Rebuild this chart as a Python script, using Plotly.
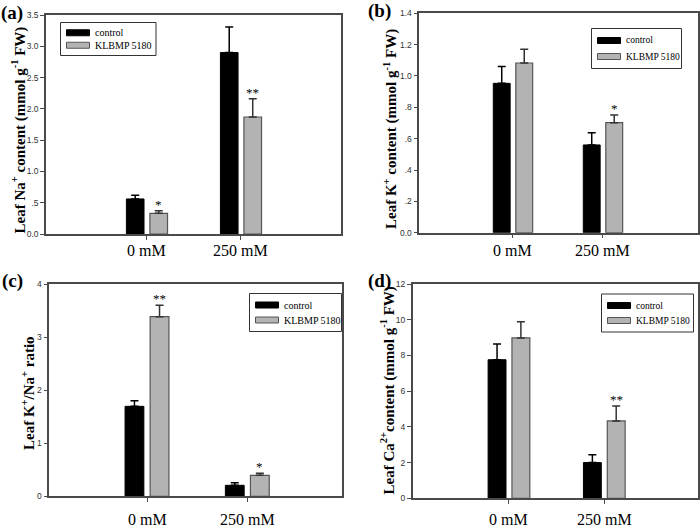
import plotly.graph_objects as go

categories = ["0 mM", "250 mM"]
series_names = ["control", "KLBMP 5180"]

# Panel (a) Leaf Na+ content
na_control = [0.56, 2.90]
na_control_err = [0.06, 0.41]
na_klbmp = [0.33, 1.87]
na_klbmp_err = [0.04, 0.29]
na_sig = ["*", "**"]

# Panel (b) Leaf K+ content
k_control = [0.953, 0.56]
k_control_err = [0.107, 0.078]
k_klbmp = [1.083, 0.702]
k_klbmp_err = [0.087, 0.049]
k_sig = ["", "*"]

# Panel (c) K+/Na+ ratio
r_control = [1.695, 0.207]
r_control_err = [0.105, 0.05]
r_klbmp = [3.385, 0.396]
r_klbmp_err = [0.215, 0.037]
r_sig = ["**", "*"]

# Panel (d) Ca2+ content
ca_control = [7.76, 2.00]
ca_control_err = [0.88, 0.44]
ca_klbmp = [8.98, 4.33]
ca_klbmp_err = [0.91, 0.84]
ca_sig = ["", "**"]

a_ticks = [0, 0.5, 1.0, 1.5, 2.0, 2.5, 3.0, 3.5]
a_ticktext = ["0.0", ".5", "1.0", "1.5", "2.0", "2.5", "3.0", "3.5"]
b_ticks = [0, 0.2, 0.4, 0.6, 0.8, 1.0, 1.2, 1.4]
b_ticktext = ["0.0", ".2", ".4", ".6", ".8", "1.0", "1.2", "1.4"]
c_ticks = [0, 1, 2, 3, 4]
c_ticktext = ["0", "1", "2", "3", "4"]
d_ticks = [0, 2, 4, 6, 8, 10, 12]
d_ticktext = ["0", "2", "4", "6", "8", "10", "12"]

W, H = 700, 528
SERIF = "Liberation Serif"
SANS = "Liberation Sans"
AXIS_COLOR = "#4a4a4a"
GRAY_FILL = "#b3b3b3"
GRAY_EDGE = "#555555"

panels = [
    dict(ctrl=na_control, ctrl_err=na_control_err, kl=na_klbmp, kl_err=na_klbmp_err, sig=na_sig,
         ticks=a_ticks, ticktext=a_ticktext, yr=[0, 3.5],
         px=(46, 341), py=(15, 234), xr=[-1.074, 2.064], caty=250.5,
         title="Leaf Na<sup>+</sup> content (mmol g<sup>-1</sup> FW)", tpos=(18.5, 130),
         leg=(60.5, 22.5, 95.5, 33), legfs=10, letter="(a)", lpos=(12, 13)),
    dict(ctrl=k_control, ctrl_err=k_control_err, kl=k_klbmp, kl_err=k_klbmp_err, sig=k_sig,
         ticks=b_ticks, ticktext=b_ticktext, yr=[0, 1.4],
         px=(419.3, 698), py=(13.3, 232.7), xr=[-1.041, 2.056], caty=250.5,
         title="Leaf K<sup>+</sup> content (mmol g<sup>-1</sup> FW)", tpos=(390, 129),
         leg=(591.5, 28.5, 90, 40), legfs=9.5, letter="(b)", lpos=(379, 11)),
    dict(ctrl=r_control, ctrl_err=r_control_err, kl=r_klbmp, kl_err=r_klbmp_err, sig=r_sig,
         ticks=c_ticks, ticktext=c_ticktext, yr=[0, 4],
         px=(49.3, 342), py=(284, 496.3), xr=[-0.974, 1.944], caty=519.5,
         title="Leaf K<sup>+</sup>/Na<sup>+</sup> ratio", tpos=(27.5, 393.5),
         leg=(249.5, 293.5, 92, 38), legfs=10, letter="(c)", lpos=(12, 281)),
    dict(ctrl=ca_control, ctrl_err=ca_control_err, kl=ca_klbmp, kl_err=ca_klbmp_err, sig=ca_sig,
         ticks=d_ticks, ticktext=d_ticktext, yr=[0, 12],
         px=(412.7, 697.7), py=(284, 498.3), xr=[-1.01, 1.98], caty=519.5,
         title="Leaf Ca<sup>2+</sup>content (mmol g<sup>-1</sup> FW)", tpos=(388, 390.5),
         leg=(601.5, 294, 92, 38), legfs=9.5, letter="(d)", lpos=(380, 281)),
]

fig = go.Figure()
layout = dict(
    width=W, height=H, margin=dict(l=0, r=0, t=0, b=0, autoexpand=False),
    paper_bgcolor="white", plot_bgcolor="white",
    barmode="group", bargap=0.5, bargroupgap=0.25,
    font=dict(family=SERIF, color="black"),
    showlegend=False,
    annotations=[], shapes=[],
)


def px_x(v):
    return v / W


def px_y(v):
    return 1 - v / H


for i, p in enumerate(panels):
    n = i + 1
    xa = "x" if n == 1 else f"x{n}"
    ya = "y" if n == 1 else f"y{n}"
    fig.add_trace(go.Bar(
        x=categories, y=p["ctrl"], name=series_names[0], xaxis=xa, yaxis=ya,
        marker=dict(color="black", line=dict(color="black", width=1)),
        error_y=dict(type="data", symmetric=False, array=p["ctrl_err"],
                     arrayminus=[0] * len(categories), color="black", thickness=1.5, width=4),
    ))
    fig.add_trace(go.Bar(
        x=categories, y=p["kl"], name=series_names[1], xaxis=xa, yaxis=ya,
        marker=dict(color=GRAY_FILL, line=dict(color=GRAY_EDGE, width=1.2)),
        error_y=dict(type="data", symmetric=False, array=p["kl_err"],
                     arrayminus=[0] * len(categories), color="#333333", thickness=1.5, width=4),
    ))
    axkey_x = "xaxis" if n == 1 else f"xaxis{n}"
    axkey_y = "yaxis" if n == 1 else f"yaxis{n}"
    layout[axkey_x] = dict(
        domain=[px_x(p["px"][0]), px_x(p["px"][1])], anchor=ya,
        type="category", range=p["xr"], showline=True, mirror=True,
        linecolor=AXIS_COLOR, linewidth=1.5, ticks="outside", ticklen=4,
        tickcolor=AXIS_COLOR, tickwidth=1, showgrid=False, zeroline=False,
        showticklabels=False, fixedrange=True, automargin=False,
    )
    layout[axkey_y] = dict(
        domain=[px_y(p["py"][1]), px_y(p["py"][0])], anchor=xa,
        range=p["yr"], tickvals=p["ticks"], ticktext=p["ticktext"],
        showline=True, mirror=True, linecolor=AXIS_COLOR, linewidth=1.5,
        ticks="outside", ticklen=4, tickcolor=AXIS_COLOR, tickwidth=1,
        showgrid=False, zeroline=False,
        tickfont=dict(family=SANS, size=8.5, color="#333333"),
        fixedrange=True, automargin=False,
    )
    # category labels
    for j, cat in enumerate(categories):
        layout["annotations"].append(dict(
            x=j, y=px_y(p["caty"]), xref=xa, yref="paper",
            text=cat, showarrow=False, xanchor="center", yanchor="middle",
            font=dict(family=SERIF, size=16, color="black"),
        ))
    # y-axis title
    layout["annotations"].append(dict(
        x=px_x(p["tpos"][0]), y=px_y(p["tpos"][1]), xref="paper", yref="paper",
        text="<b>" + p["title"] + "</b>", showarrow=False, textangle=-90,
        xanchor="center", yanchor="middle",
        font=dict(family=SERIF, size=15, color="black"),
    ))
    # legend box drawn per panel
    bx, by, bw, bh = p["leg"]
    layout["shapes"].append(dict(
        type="rect", xref="paper", yref="paper",
        x0=px_x(bx), x1=px_x(bx + bw), y0=px_y(by + bh), y1=px_y(by),
        line=dict(color="#333333", width=1), fillcolor="white", layer="above",
    ))
    rows = [(series_names[0], "black", "black"), (series_names[1], GRAY_FILL, GRAY_EDGE)]
    row_h = (bh - 8) / 2
    for k, (label, fill, edge) in enumerate(rows):
        cy = by + 4 + row_h * (k + 0.5)
        layout["shapes"].append(dict(
            type="rect", xref="paper", yref="paper",
            x0=px_x(bx + 6), x1=px_x(bx + 29), y0=px_y(cy + 3), y1=px_y(cy - 3),
            line=dict(color=edge, width=1), fillcolor=fill, layer="above",
        ))
        layout["annotations"].append(dict(
            x=px_x(bx + 32), y=px_y(cy), xref="paper", yref="paper",
            text=label, showarrow=False, xanchor="left", yanchor="middle",
            font=dict(family=SERIF, size=p["legfs"], color="black"),
        ))
    # significance markers above the KLBMP bars
    for j, cat in enumerate(categories):
        if p["sig"][j]:
            layout["annotations"].append(dict(
                x=j + 0.125, y=p["kl"][j] + p["kl_err"][j], xref=xa, yref=ya,
                text=p["sig"][j], showarrow=False, yanchor="bottom",
                font=dict(family=SERIF, size=13, color="black"), yshift=-3,
            ))
    layout["annotations"].append(dict(
        x=px_x(p["lpos"][0]), y=px_y(p["lpos"][1]), xref="paper", yref="paper",
        text="<b>" + p["letter"] + "</b>", showarrow=False,
        xanchor="center", yanchor="middle",
        font=dict(family=SERIF, size=19, color="black"),
    ))

fig.update_layout(**layout)
fig.write_html("out.html", config={"displayModeBar": False},
               post_script="document.body.style.margin='0';document.body.style.overflow='hidden';")
